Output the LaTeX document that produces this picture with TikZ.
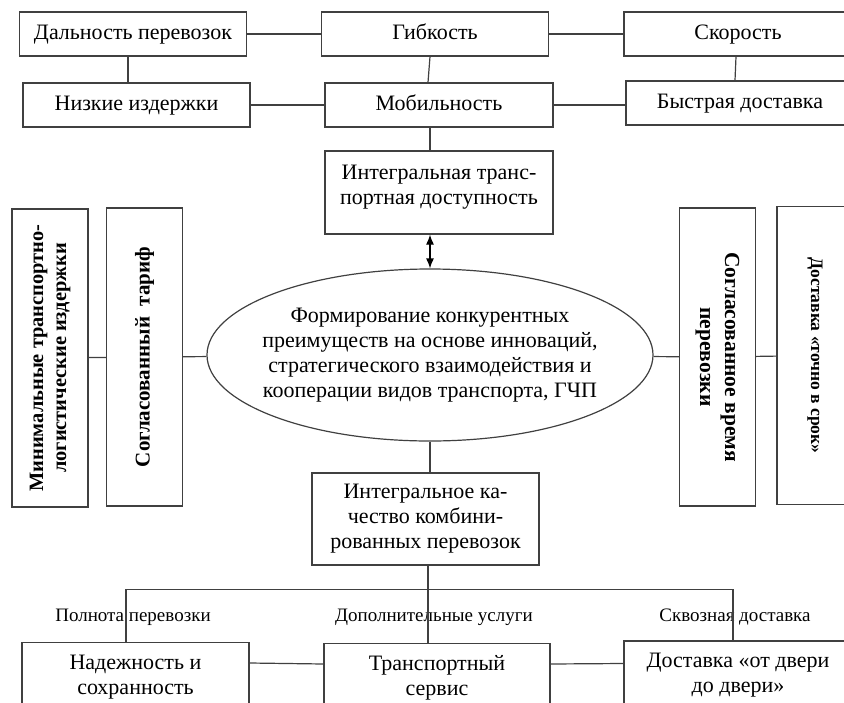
\documentclass[tikz,border=0pt]{standalone}
\usepackage{fontspec}
\setmainfont{Liberation Serif}
\usepackage{tikz}
\usetikzlibrary{shapes,arrows.meta,positioning,calc}
\definecolor{linegray}{RGB}{64,64,64}

\begin{document}
\begin{tikzpicture}[
    x=1pt, y=-1pt,
    box/.style={rectangle, draw=linegray, line width=1.2pt, align=center, minimum width=227pt, minimum height=44pt, inner sep=2pt, font=\fontsize{22}{25}\selectfont},
    single/.style={box, text height=15pt, text depth=5pt},
    vbox/.style={rectangle, draw=linegray, line width=1.2pt, align=center, minimum width=298pt, minimum height=76pt, inner sep=2pt, font=\fontsize{21}{24}\selectfont\bfseries},
    core/.style={ellipse, draw=linegray, line width=1.2pt, align=center, minimum width=446pt, minimum height=172pt, inner xsep=-24pt, inner ysep=0pt, font=\fontsize{22}{25}\selectfont},
    lbl/.style={inner sep=0pt, font=\fontsize{19}{22}\selectfont},
    link/.style={draw=linegray, line width=1.2pt},
    dblarrow/.style={{Latex[length=10pt,width=8pt]}-{Latex[length=10pt,width=8pt]}, line width=1.2pt, draw=black}
]
\clip (0,0) rectangle (844,702);

% Upper block
\node[single] (dal) at (133,34) {Дальность перевозок};
\node[single] (gib) at (435,34) {Гибкость};
\node[single, minimum width=228pt] (skor) at (738,34) {Скорость};
\node[single] (niz) at (136.5,105) {Низкие издержки};
\node[single, minimum width=228pt] (mob) at (439,105) {Мобильность};
\node[single, minimum width=228pt] (bys) at (740,103) {Быстрая доставка};
\node[box, minimum width=228pt, minimum height=83pt] (integ) at (439,192.5) {Интегральная транс-\\портная доступность\\[-9pt]~};

% Centre
\node[core] (ell) at (430,355) {Формирование конкурентных\\преимуществ на основе инноваций,\\стратегического взаимодействия и\\кооперации видов транспорта, ГЧП};

% Side blocks
\node[vbox, rotate=90, font=\fontsize{20.4}{23}\selectfont\bfseries] (lb1) at (50,358) {Минимальные транспортно-\\логистические издержки};
\node[vbox, rotate=90] (lb2) at (144.5,357) {Согласованный~~тариф};
\node[vbox, rotate=-90, font=\fontsize{21.5}{25}\selectfont\bfseries] (rb3) at (717.5,357) {Согласованное время\\перевозки};
\node[vbox, rotate=-90, font=\fontsize{17.5}{21}\selectfont\bfseries] (rb4) at (815,355.5) {Доставка «точно в срок»};

% Lower block
\node[box, minimum height=92pt] (kach) at (425.5,519) {Интегральное ка-\\чество комбини-\\рованных перевозок};
\node[box, minimum height=69pt] (nad) at (135.5,677) {Надежность и\\сохранность};
\node[box, minimum width=226pt, minimum height=69pt] (trans) at (437,678) {Транспортный\\сервис};
\node[box, minimum width=228pt, minimum height=69pt] (dver) at (738,675.5) {Доставка «от двери\\до двери»};
\coordinate (bus) at ($(kach.south)+(2.5,24)$);

% Labels
\node[lbl] (polnota) at (133,617) {Полнота перевозки};
\node[lbl] (uslugi) at (434,617) {Дополнительные услуги};
\node[lbl] (skvoz) at (735,617) {Сквозная доставка};

% Lines
\draw[link] (dal) -- (gib);
\draw[link] (gib) -- (skor);
\draw[link] ([xshift=-5pt]dal.south) -- ([xshift=-8.5pt]niz.north);
\draw[link] ([xshift=-5pt]gib.south) -- ([xshift=-11pt]mob.north);
\draw[link] ([xshift=-2pt]skor.south) -- ([xshift=-5pt]bys.north);
\draw[link] (niz) -- (mob);
\draw[link] (mob.east) -- (mob.east -| bys.west);
\draw[link] ([xshift=-9pt]mob.south) -- ([xshift=-9pt]integ.north);
\draw[dblarrow] ([xshift=-9pt]integ.south) -- (ell.north);
\draw[link] (lb1) -- (lb2);
\draw[link] (lb2) -- (ell);
\draw[link] (ell) -- (rb3);
\draw[link] (rb3) -- (rb4);
\draw[link] (ell.south) -- (ell.south |- kach.north);
\draw[link] ([xshift=2.5pt]kach.south) -- (bus) -- ([xshift=-9pt]trans.north);
\draw[link] ([xshift=-9.5pt]nad.north) |- (bus) -| ([xshift=-5pt]dver.north);
\draw[link] ([yshift=14pt]nad.east) -- ([yshift=14pt]trans.west);
\draw[link] ([yshift=14pt]trans.east) -- ([yshift=12pt]dver.west);

\end{tikzpicture}
\end{document}
